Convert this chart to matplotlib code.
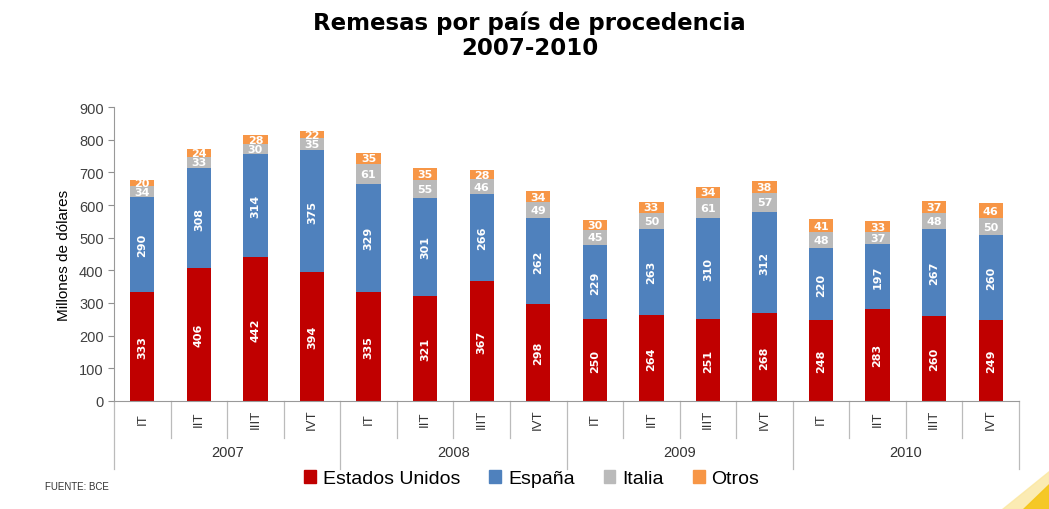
import matplotlib.pyplot as plt
import matplotlib.transforms as mtransforms
from matplotlib.patches import Patch, Polygon
import numpy as np

# data
years = ['2007', '2008', '2009', '2010']
quarters = ['IT', 'IIT', 'IIIT', 'IVT']
eeuu = [333, 406, 442, 394, 335, 321, 367, 298, 250, 264, 251, 268, 248, 283, 260, 249]
espana = [290, 308, 314, 375, 329, 301, 266, 262, 229, 263, 310, 312, 220, 197, 267, 260]
italia = [34, 33, 30, 35, 61, 55, 46, 49, 45, 50, 61, 57, 48, 37, 48, 50]
otros = [20, 24, 28, 22, 35, 35, 28, 34, 30, 33, 34, 38, 41, 33, 37, 46]
series_names = ['Estados Unidos', 'España', 'Italia', 'Otros']
colors = ['#C00000', '#4F81BD', '#BABABA', '#F79646']

arial = ['Liberation Sans', 'DejaVu Sans']

fig = plt.figure(figsize=(10.49, 5.10), dpi=100)
ax = fig.add_axes([0.1087, 0.2118, 0.8627, 0.5764])

x = np.arange(len(eeuu))
width = 0.43
bottom = np.zeros(len(x))
for vals, col, name in zip([eeuu, espana, italia, otros], colors, series_names):
    vals = np.array(vals)
    ax.bar(x, vals, width, bottom=bottom, color=col, label=name)
    rot = 90 if name in ('Estados Unidos', 'España') else 0
    for xi, b, v in zip(x, bottom, vals):
        ax.text(xi, b + v / 2, str(v), ha='center', va='center', rotation=rot,
                color='white', fontsize=8, fontweight='bold', family='DejaVu Sans')
    bottom = bottom + vals

ax.set_xlim(-0.5, len(x) - 0.5)
ax.set_ylim(0, 900)
ax.set_yticks(np.arange(0, 901, 100))
ax.tick_params(axis='y', labelsize=10.5, colors='#909090', labelcolor='#404040',
               length=4, direction='out')
for lab in ax.get_yticklabels():
    lab.set_family(arial)
ax.set_xticks([])
ax.spines['top'].set_visible(False)
ax.spines['right'].set_visible(False)
ax.spines['left'].set_color('#999999')
ax.spines['bottom'].set_color('#999999')
ax.set_ylabel('Millones de dólares', fontsize=11, family=arial, labelpad=6)

# two-level category axis
trans = mtransforms.blended_transform_factory(ax.transData, ax.transAxes)
for i in range(len(x)):
    ax.text(i, -0.06, quarters[i % 4], transform=trans, rotation=90,
            ha='center', va='center', fontsize=9.5, family=arial, color='#333333')
for i in range(len(x) + 1):
    pos = i - 0.5
    ylow = -0.23 if i % 4 == 0 else -0.125
    ax.plot([pos, pos], [0, ylow], transform=trans, color='#BBBBBB',
            lw=0.9, clip_on=False)
for k, yr in enumerate(years):
    ax.text(4 * k + 1.5, -0.175, yr, transform=trans, ha='center', va='center',
            fontsize=10.5, family=arial, color='#333333')

fig.text(0.505, 0.93, 'Remesas por país de procedencia\n2007-2010', ha='center',
         va='center', fontsize=16.5, fontweight='bold', family='DejaVu Sans',
         linespacing=1.15)

handles = [Patch(color=c) for c in colors]
fig.legend(handles, series_names, loc='center', bbox_to_anchor=(0.507, 0.059),
           ncol=4, frameon=False, handlelength=0.6, handleheight=0.6,
           handletextpad=0.35, columnspacing=1.5, prop={'family': arial, 'size': 14})

fig.text(0.043, 0.045, 'FUENTE: BCE', fontsize=7, family=arial, color='#333333',
         va='center')

# yellow swoosh in the corner
fig.patches.append(Polygon([[0.955, 0.0], [1.0, 0.0], [1.0, 0.075]], closed=True,
                           transform=fig.transFigure, color='#FBE7A0', alpha=0.8))
fig.patches.append(Polygon([[0.975, 0.0], [1.0, 0.0], [1.0, 0.05]], closed=True,
                           transform=fig.transFigure, color='#F5C518', alpha=0.9))

fig.savefig('out.png', dpi=100)
